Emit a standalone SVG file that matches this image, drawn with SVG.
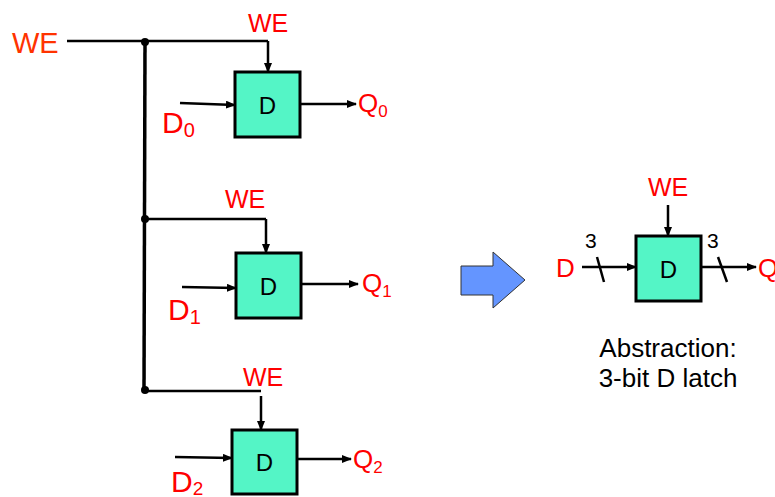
<svg xmlns="http://www.w3.org/2000/svg" width="775" height="497" viewBox="0 0 775 497">
<defs>
<marker id="ah" markerWidth="10" markerHeight="8" refX="9" refY="4" orient="auto" markerUnits="userSpaceOnUse">
<path d="M0,0 L10,4 L0,8 z" fill="#000"/>
</marker>
<style>
.w{stroke:#000;stroke-width:2.5;fill:none}
.bus{stroke:#000;stroke-width:3.5;fill:none}
.a{stroke:#000;stroke-width:2.5;fill:none;marker-end:url(#ah)}
.box{fill:#54F5C6;stroke:#000;stroke-width:3}
.r{fill:#FF0000;font-family:"Liberation Sans",Arial,sans-serif}
.k{fill:#000;font-family:"Liberation Sans",Arial,sans-serif}
</style>
</defs>
<rect width="775" height="497" fill="#fff"/>
<g id="connectors">
<path class="w" d="M67,41 H268"/>
<path class="bus" d="M145,42 L144,390"/>
<path class="a" d="M268,41 V72"/>
<path class="w" d="M145,219 H266"/>
<path class="a" d="M266,219 V253"/>
<path class="w" d="M144,391 H261"/>
<path class="a" d="M261,396 V430"/>
<path class="a" d="M180,103 L235,105"/>
<path class="a" d="M182,287 L236,288"/>
<path class="a" d="M175,457 L232,458"/>
<path class="a" d="M300,104 H356"/>
<path class="a" d="M301,284 H358"/>
<path class="a" d="M297,459 H351"/>
<circle cx="145" cy="42" r="4"/>
<circle cx="145" cy="219" r="4"/>
<circle cx="145" cy="390" r="4"/>
<path class="a" d="M668,205 V236"/>
<path class="a" d="M582,267 H636"/>
<path class="a" d="M701,267 H756"/>
<path class="w" d="M597,257 L604,282"/>
<path class="w" d="M718,257 L727,282"/>
</g>
<g id="we-in"><text x="12" y="53" font-size="29" fill="#FF3300" font-family="'Liberation Sans',Arial,sans-serif">WE</text></g>
<g id="latch0">
<text class="r" x="248" y="32" font-size="25">WE</text>
<rect class="box" x="235" y="72" width="65" height="65"/>
<text class="k" x="267.5" y="114" font-size="24" text-anchor="middle">D</text>
<text class="r" x="162" y="133" font-size="30">D<tspan font-size="20" dy="4">0</tspan></text>
<text class="r" x="358" y="112" font-size="26">Q<tspan font-size="17" dy="5">0</tspan></text>
</g>
<g id="latch1">
<text class="r" x="225" y="208" font-size="25">WE</text>
<rect class="box" x="236" y="253" width="65" height="65"/>
<text class="k" x="268.5" y="295" font-size="24" text-anchor="middle">D</text>
<text class="r" x="168" y="320" font-size="30">D<tspan font-size="20" dy="4">1</tspan></text>
<text class="r" x="362" y="292" font-size="26">Q<tspan font-size="17" dy="5">1</tspan></text>
</g>
<g id="latch2">
<text class="r" x="243" y="386" font-size="25">WE</text>
<rect class="box" x="232" y="430" width="65" height="64"/>
<text class="k" x="264.5" y="471" font-size="24" text-anchor="middle">D</text>
<text class="r" x="171" y="492" font-size="30">D<tspan font-size="19" dy="3">2</tspan></text>
<text class="r" x="353" y="468" font-size="26">Q<tspan font-size="17" dy="5">2</tspan></text>
</g>
<g id="big-arrow">
<path d="M461,266 H493 V252 L525,280 L493,308 V295 H461 Z" fill="#6495FF" stroke="#333" stroke-width="1"/>
</g>
<g id="latch-abstract">
<text class="r" x="648" y="196" font-size="25">WE</text>
<rect class="box" x="636" y="236" width="65" height="65"/>
<text class="k" x="668.5" y="278" font-size="24" text-anchor="middle">D</text>
<text class="r" x="556" y="277" font-size="26">D</text>
<text class="r" x="758" y="277" font-size="26">Q</text>
<text class="k" x="585" y="248" font-size="21">3</text>
<text class="k" x="707" y="248" font-size="21">3</text>
<text class="k" x="668" y="357" font-size="26" text-anchor="middle">Abstraction:</text>
<text class="k" x="668" y="387" font-size="26" text-anchor="middle">3-bit D latch</text>
</g>
</svg>
